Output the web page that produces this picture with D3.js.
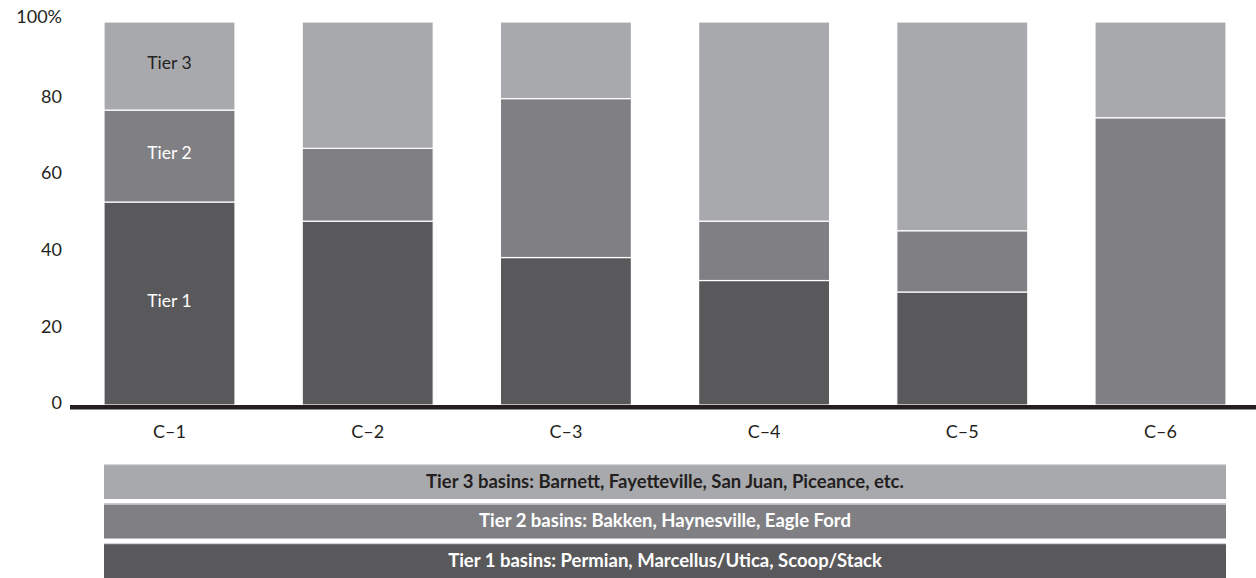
<!DOCTYPE html>
<html>
<head>
<meta charset="utf-8">
<script src="https://cdn.jsdelivr.net/npm/d3@7"></script>
<style>
  html, body { margin: 0; padding: 0; background: #fff; }
  svg { display: block; font-family: Lato, "Open Sans", sans-serif; }
</style>
</head>
<body>
<svg id="chart" width="1256" height="578"></svg>
<script>
// Share of each company's inventory by basin tier (percent)
const categories = ["C\u20131", "C\u20132", "C\u20133", "C\u20134", "C\u20135", "C\u20136"];
const tier1 = [53, 48, 38.5, 32.5, 29.5, 0];
const tier2 = [24, 19, 41.5, 15.5, 16, 75];
const tier3 = [23, 33, 20, 52, 54.5, 25];
const tierNames = ["Tier 1", "Tier 2", "Tier 3"];
const yTicks = [0, 20, 40, 60, 80, 100];
const legendLabels = [
  "Tier 3 basins: Barnett, Fayetteville, San Juan, Piceance, etc.",
  "Tier 2 basins: Bakken, Haynesville, Eagle Ford",
  "Tier 1 basins: Permian, Marcellus/Utica, Scoop/Stack"
];
const legendTiers = ["Tier 3", "Tier 2", "Tier 1"];

const colors = { "Tier 1": "#59595b", "Tier 2": "#808084", "Tier 3": "#a8a9ad" };
const textColors = { "Tier 1": "#ffffff", "Tier 2": "#ffffff", "Tier 3": "#231f20" };

const rows = categories.map((c, i) => ({
  cat: c, "Tier 1": tier1[i], "Tier 2": tier2[i], "Tier 3": tier3[i]
}));

const svg = d3.select("#chart");

const x = d3.scaleBand().domain(categories).range([104, 1226])
  .paddingInner(0.339).paddingOuter(0);
const y = d3.scaleLinear().domain([0, 100]).range([405, 22]);

const stack = d3.stack().keys(tierNames);
const series = stack(rows);

// Stacked bars
const layers = svg.append("g").selectAll("g")
  .data(series).join("g")
  .attr("fill", d => colors[d.key]);

layers.selectAll("rect")
  .data(d => d.map(p => ({ p, key: d.key })))
  .join("rect")
  .filter(d => d.p[1] - d.p[0] > 0)
  .attr("x", d => x(d.p.data.cat))
  .attr("width", x.bandwidth())
  .attr("y", d => y(d.p[1]))
  .attr("height", d => y(d.p[0]) - y(d.p[1]))
  .attr("stroke", "#ffffff")
  .attr("stroke-width", 1.2);

// Tier labels inside the first bar
const first = categories[0];
series.forEach(s => {
  const p = s[0];
  svg.append("text")
    .attr("x", x(first) + x.bandwidth() / 2)
    .attr("y", (y(p[0]) + y(p[1])) / 2 - 3)
    .attr("dy", "0.35em")
    .attr("text-anchor", "middle")
    .attr("font-size", 17.5)
    .attr("fill", textColors[s.key])
    .text(s.key);
});

// Y axis labels (no axis line)
const yAxis = d3.axisLeft(y).tickValues(yTicks).tickSize(0).tickPadding(0)
  .tickFormat(d => d === 100 ? "100%" : d);
const yg = svg.append("g").attr("transform", "translate(62,0)").call(yAxis);
yg.select(".domain").remove();
yg.selectAll("text").attr("font-size", 18).attr("fill", "#231f20")
  .attr("font-family", "Lato, sans-serif").attr("dy", "0.2em");
yg.selectAll(".tick").filter(d => d === 100).select("text").attr("dy", "0.05em");

// Baseline
svg.append("line")
  .attr("x1", 70).attr("x2", 1256)
  .attr("y1", y(0) + 2.3).attr("y2", y(0) + 2.3)
  .attr("stroke", "#231f20").attr("stroke-width", 4.6);

// X axis labels
const xAxis = d3.axisBottom(x).tickSize(0).tickPadding(0);
const xg = svg.append("g").attr("transform", `translate(0,${y(0) + 20})`).call(xAxis);
xg.select(".domain").remove();
xg.selectAll("text").attr("font-size", 18).attr("fill", "#231f20")
  .attr("font-family", "Lato, sans-serif");

// Legend strips
const ly = d3.scaleBand().domain(legendTiers).range([464, 578])
  .paddingInner(0.114).paddingOuter(0);
const lg = svg.append("g").selectAll("g")
  .data(legendTiers).join("g");
lg.append("rect")
  .attr("x", 104).attr("width", 1122)
  .attr("y", d => ly(d)).attr("height", ly.bandwidth())
  .attr("fill", d => colors[d]);
lg.append("rect")
  .attr("x", 104).attr("width", 1122)
  .attr("y", d => ly(d)).attr("height", 1.2)
  .attr("fill", "#d4d4d6");
lg.append("text")
  .attr("x", 665)
  .attr("y", d => ly(d) + ly.bandwidth() / 2)
  .attr("dy", "0.35em")
  .attr("text-anchor", "middle")
  .attr("font-size", 18.5)
  .attr("font-weight", "bold")
  .attr("fill", d => textColors[d])
  .text((d, i) => legendLabels[i]);
</script>
</body>
</html>
